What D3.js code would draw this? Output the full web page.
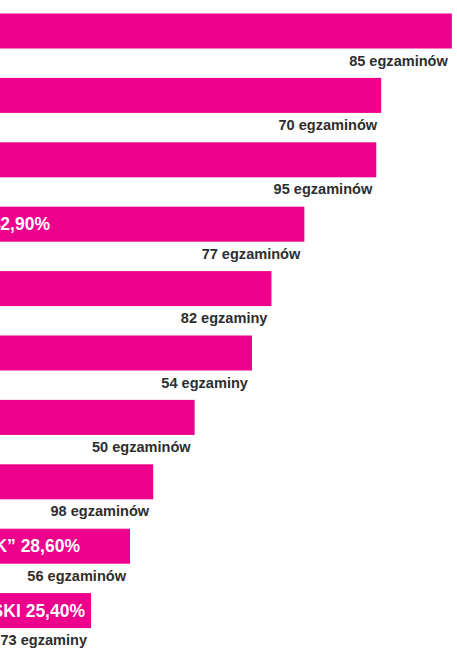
<!DOCTYPE html>
<html>
<head>
<meta charset="utf-8">
<script src="https://cdn.jsdelivr.net/npm/d3@7"></script>
<style>
  html, body { margin: 0; padding: 0; background: #fff; overflow: hidden; }
  svg { display: block; }
  .lbl { font-family: "Liberation Sans", Arial, sans-serif; font-weight: bold; }
</style>
</head>
<body>
<svg id="chart" width="457" height="649"></svg>
<script>
// ---- data ----
const rows = [0, 1, 2, 3, 4, 5, 6, 7, 8, 9];
const passRate = [55.0, 49.2, 48.8, 42.9, 40.2, 38.6, 33.9, 30.5, 28.6, 25.4];
const examCount = [85, 70, 95, 77, 82, 54, 50, 98, 56, 73];
const examWord = ["egzaminów", "egzaminów", "egzaminów", "egzaminów", "egzaminy", "egzaminy", "egzaminów", "egzaminów", "egzaminów", "egzaminy"];
// visible tail of the (cropped) name label inside the bar; null = not visible
const nameTail = [null, null, null, "", null, null, null, null, "K”", "SKI"];

// ---- layout ----
const svg = d3.select("#chart");
const pink = "#EC008C";

const x = d3.scaleLinear().domain([0, 60]).range([-218.6, -218.6 + 60 * 12.19]);
const y = d3.scaleBand().domain(rows).range([13.5, 13.5 + 9 * 64.4 + 35])
  .paddingInner(1 - 35 / 64.4).paddingOuter(0).align(0);

const fmtPct = v => d3.format(".2f")(v).replace(".", ",") + "%";

svg.selectAll("rect.bar").data(rows).join("rect")
  .attr("class", "bar")
  .attr("x", x(0))
  .attr("y", i => y(i))
  .attr("width", i => x(passRate[i]) - x(0))
  .attr("height", y.bandwidth())
  .attr("fill", pink);

svg.selectAll("text.cnt").data(rows).join("text")
  .attr("class", "lbl cnt")
  .attr("transform", i => `translate(${x(passRate[i]) - 4},${y(i) + y.bandwidth() + 17}) scale(0.94,1)`)
  .attr("text-anchor", "end")
  .attr("font-size", 15.5)
  .attr("fill", "#2e2e2e")
  .text(i => examCount[i] + " " + examWord[i]);

// inner labels (name + percentage), only the visible ones; end position of the text
const innerEnd = {3: 50, 8: 80, 9: 85};
const inner = rows.filter(i => nameTail[i] !== null);
svg.selectAll("text.inner").data(inner).join("text")
  .attr("class", "lbl inner")
  .attr("transform", i => `translate(${innerEnd[i]},${y(i) + y.bandwidth() / 2 + 6})`)
  .attr("text-anchor", "end")
  .attr("font-size", 17.5)
  .attr("fill", "#fff")
  .text(i => (nameTail[i] ? nameTail[i] + " " : "") + fmtPct(passRate[i]));
</script>
</body>
</html>
